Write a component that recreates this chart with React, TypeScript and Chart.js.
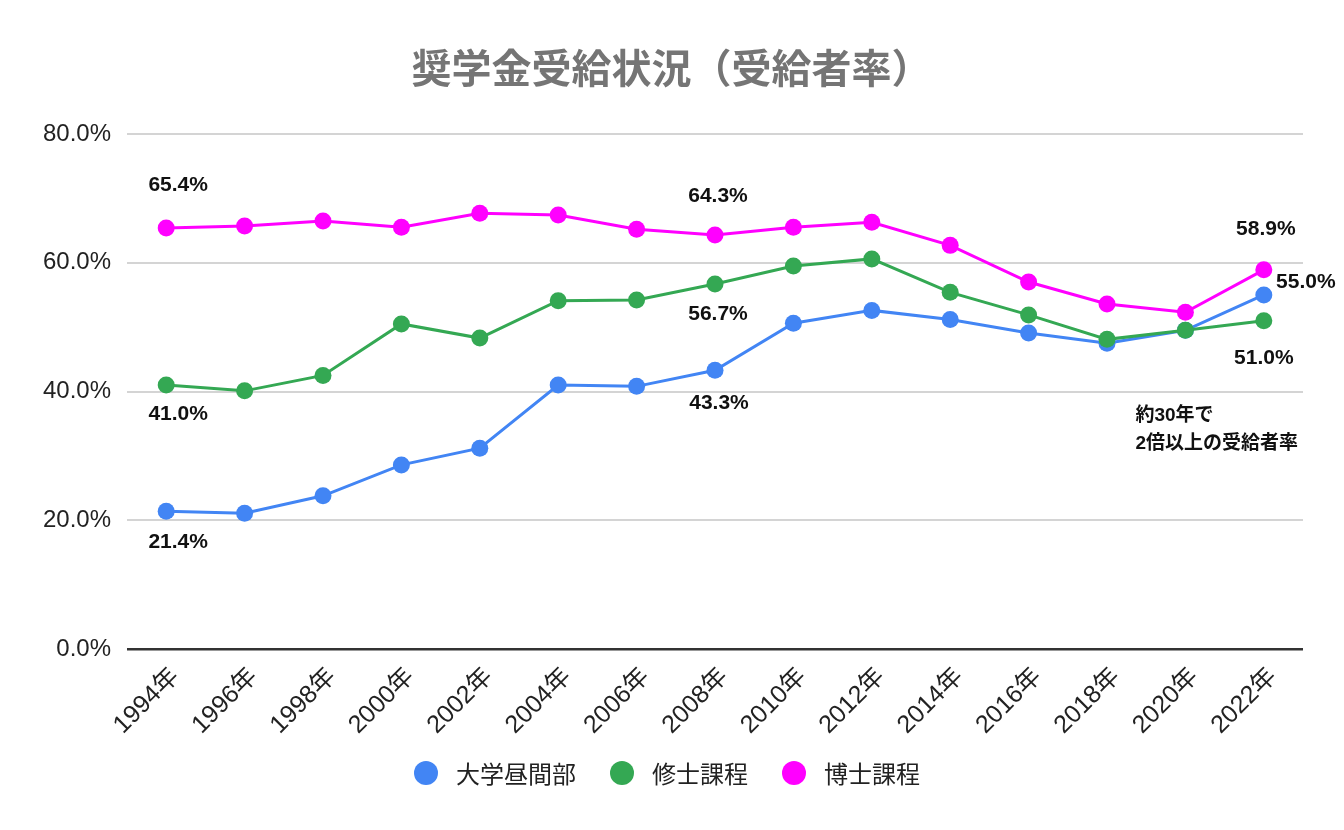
import React, { useEffect, useRef } from 'react';
import { Chart, registerables } from 'chart.js';

Chart.register(...registerables);

const categories = ['1994年', '1996年', '1998年', '2000年', '2002年', '2004年', '2006年', '2008年', '2010年', '2012年', '2014年', '2016年', '2018年', '2020年', '2022年'];
const undergrad = [21.4, 21.1, 23.8, 28.6, 31.2, 41.0, 40.8, 43.3, 50.6, 52.6, 51.2, 49.1, 47.5, 49.5, 55.0];
const master = [41.0, 40.1, 42.5, 50.5, 48.3, 54.1, 54.2, 56.7, 59.5, 60.6, 55.4, 51.9, 48.1, 49.5, 51.0];
const doctor = [65.4, 65.7, 66.5, 65.5, 67.7, 67.4, 65.2, 64.3, 65.5, 66.3, 62.7, 57.0, 53.6, 52.3, 58.9];
const seriesNames = ['大学昼間部', '修士課程', '博士課程'];
const yTicks = [0, 20, 40, 60, 80];
const titleText = '奨学金受給状況（受給者率）';
const noteLines = ['約30年で', '2倍以上の受給者率'];

const FONT = "'Liberation Sans', 'Noto Sans CJK JP', sans-serif";
const CJK = "'Noto Sans CJK JP', sans-serif";
const COLORS = ['#4285F4', '#34A853', '#FF00FF'];

// label placements (dataset, index, pixel offset from point)
const labelSpots = [
  { ds: 2, i: 0, dx: 12, dy: -43 },
  { ds: 1, i: 0, dx: 12, dy: 29 },
  { ds: 0, i: 0, dx: 12, dy: 31 },
  { ds: 2, i: 7, dx: 3, dy: -39 },
  { ds: 1, i: 7, dx: 3, dy: 30 },
  { ds: 0, i: 7, dx: 4, dy: 33 },
  { ds: 2, i: 14, dx: 2, dy: -41 },
  { ds: 0, i: 14, dx: 42, dy: -13 },
  { ds: 1, i: 14, dx: 0, dy: 38 },
];

const valueLabelPlugin = {
  id: 'valueLabels',
  afterDatasetsDraw(chart: any) {
    const ctx = chart.ctx;
    ctx.save();
    ctx.font = `bold 21px ${FONT}`;
    ctx.fillStyle = '#111111';
    ctx.textAlign = 'center';
    ctx.textBaseline = 'middle';
    for (const s of labelSpots) {
      const meta = chart.getDatasetMeta(s.ds);
      const el = meta.data[s.i];
      const v = chart.data.datasets[s.ds].data[s.i] as number;
      ctx.fillText(v.toFixed(1) + '%', el.x + s.dx, el.y + s.dy);
    }
    // note
    const xs = chart.scales.x;
    const ys = chart.scales.y;
    const nx = xs.getPixelForValue(13) - 50;
    const ny = ys.getPixelForValue(36.3);
    ctx.font = `bold 19px ${FONT}`;
    ctx.textAlign = 'left';
    noteLines.forEach((line, k) => {
      ctx.fillText(line, nx, ny + k * 28);
    });
    ctx.restore();
  },
};

const customLegendPlugin = {
  id: 'customLegend',
  afterDraw(chart: any) {
    const ctx = chart.ctx;
    ctx.save();
    ctx.font = `24px ${CJK}`;
    const r = 12;
    const gapText = 18;
    const gapItem = 34;
    const ds = chart.data.datasets;
    const widths = ds.map((d: any) => ctx.measureText(d.label).width);
    let total = 0;
    widths.forEach((w: number, k: number) => {
      total += 2 * r + gapText + w + (k < widths.length - 1 ? gapItem : 0);
    });
    let x = (chart.width - total) / 2 - 5;
    const y = chart.height - 57;
    ds.forEach((d: any, k: number) => {
      ctx.beginPath();
      ctx.fillStyle = d.borderColor;
      ctx.arc(x + r, y, r, 0, Math.PI * 2);
      ctx.fill();
      ctx.fillStyle = '#222222';
      ctx.textAlign = 'left';
      ctx.textBaseline = 'middle';
      ctx.fillText(d.label, x + 2 * r + gapText, y + 1);
      x += 2 * r + gapText + widths[k] + gapItem;
    });
    ctx.restore();
  },
};

export default function App() {
  const ref = useRef<HTMLCanvasElement | null>(null);
  useEffect(() => {
    document.body.style.margin = '0';
    if (!ref.current) return;
    Chart.defaults.font.family = FONT;
    const seriesData = [undergrad, master, doctor];
    const chart = new Chart(ref.current, {
      type: 'line',
      data: {
        labels: categories,
        datasets: seriesData.map((d, k) => ({
          label: seriesNames[k],
          data: d,
          borderColor: COLORS[k],
          backgroundColor: COLORS[k],
          pointBackgroundColor: COLORS[k],
          pointBorderWidth: 0,
          pointRadius: 8.5,
          borderWidth: 3,
          tension: 0,
          order: 3 - k,
        })),
      },
      options: {
        animation: false,
        responsive: true,
        maintainAspectRatio: false,
        layout: { padding: { left: 40, right: 41, top: 0, bottom: 61 } },
        plugins: {
          legend: { display: false },
          tooltip: { enabled: false },
          title: {
            display: true,
            text: titleText,
            color: '#757575',
            font: { size: 40, weight: 'bold', family: CJK },
            padding: { top: 44, bottom: 42 },
          },
        },
        scales: {
          x: {
            offset: true,
            grid: { display: false },
            border: { display: false },
            ticks: {
              color: '#222222',
              font: { size: 25 },
              maxRotation: 45,
              minRotation: 45,
              padding: 5,
              labelOffset: 9,
              autoSkip: false,
            },
            afterFit: (s: any) => { s.height = 120; },
          },
          y: {
            min: 0,
            max: 80,
            border: { display: false },
            grid: {
              drawTicks: false,
              color: (c: any) => (c.tick && c.tick.value === 0 ? '#333333' : '#d4d4d4'),
              lineWidth: (c: any) => (c.tick && c.tick.value === 0 ? 2.5 : 2),
            },
            afterBuildTicks: (s: any) => { s.ticks = yTicks.map((v) => ({ value: v })); },
            ticks: {
              color: '#222222',
              font: { size: 24 },
              padding: 16,
              callback: (v: any) => Number(v).toFixed(1) + '%',
            },
            afterFit: (s: any) => { s.width = 87; },
          },
        },
      },
      plugins: [valueLabelPlugin, customLegendPlugin],
    });
    return () => chart.destroy();
  }, []);
  return (
    <div style={{ width: 1344, height: 830, position: 'relative' }}>
      <canvas ref={ref} />
    </div>
  );
}
